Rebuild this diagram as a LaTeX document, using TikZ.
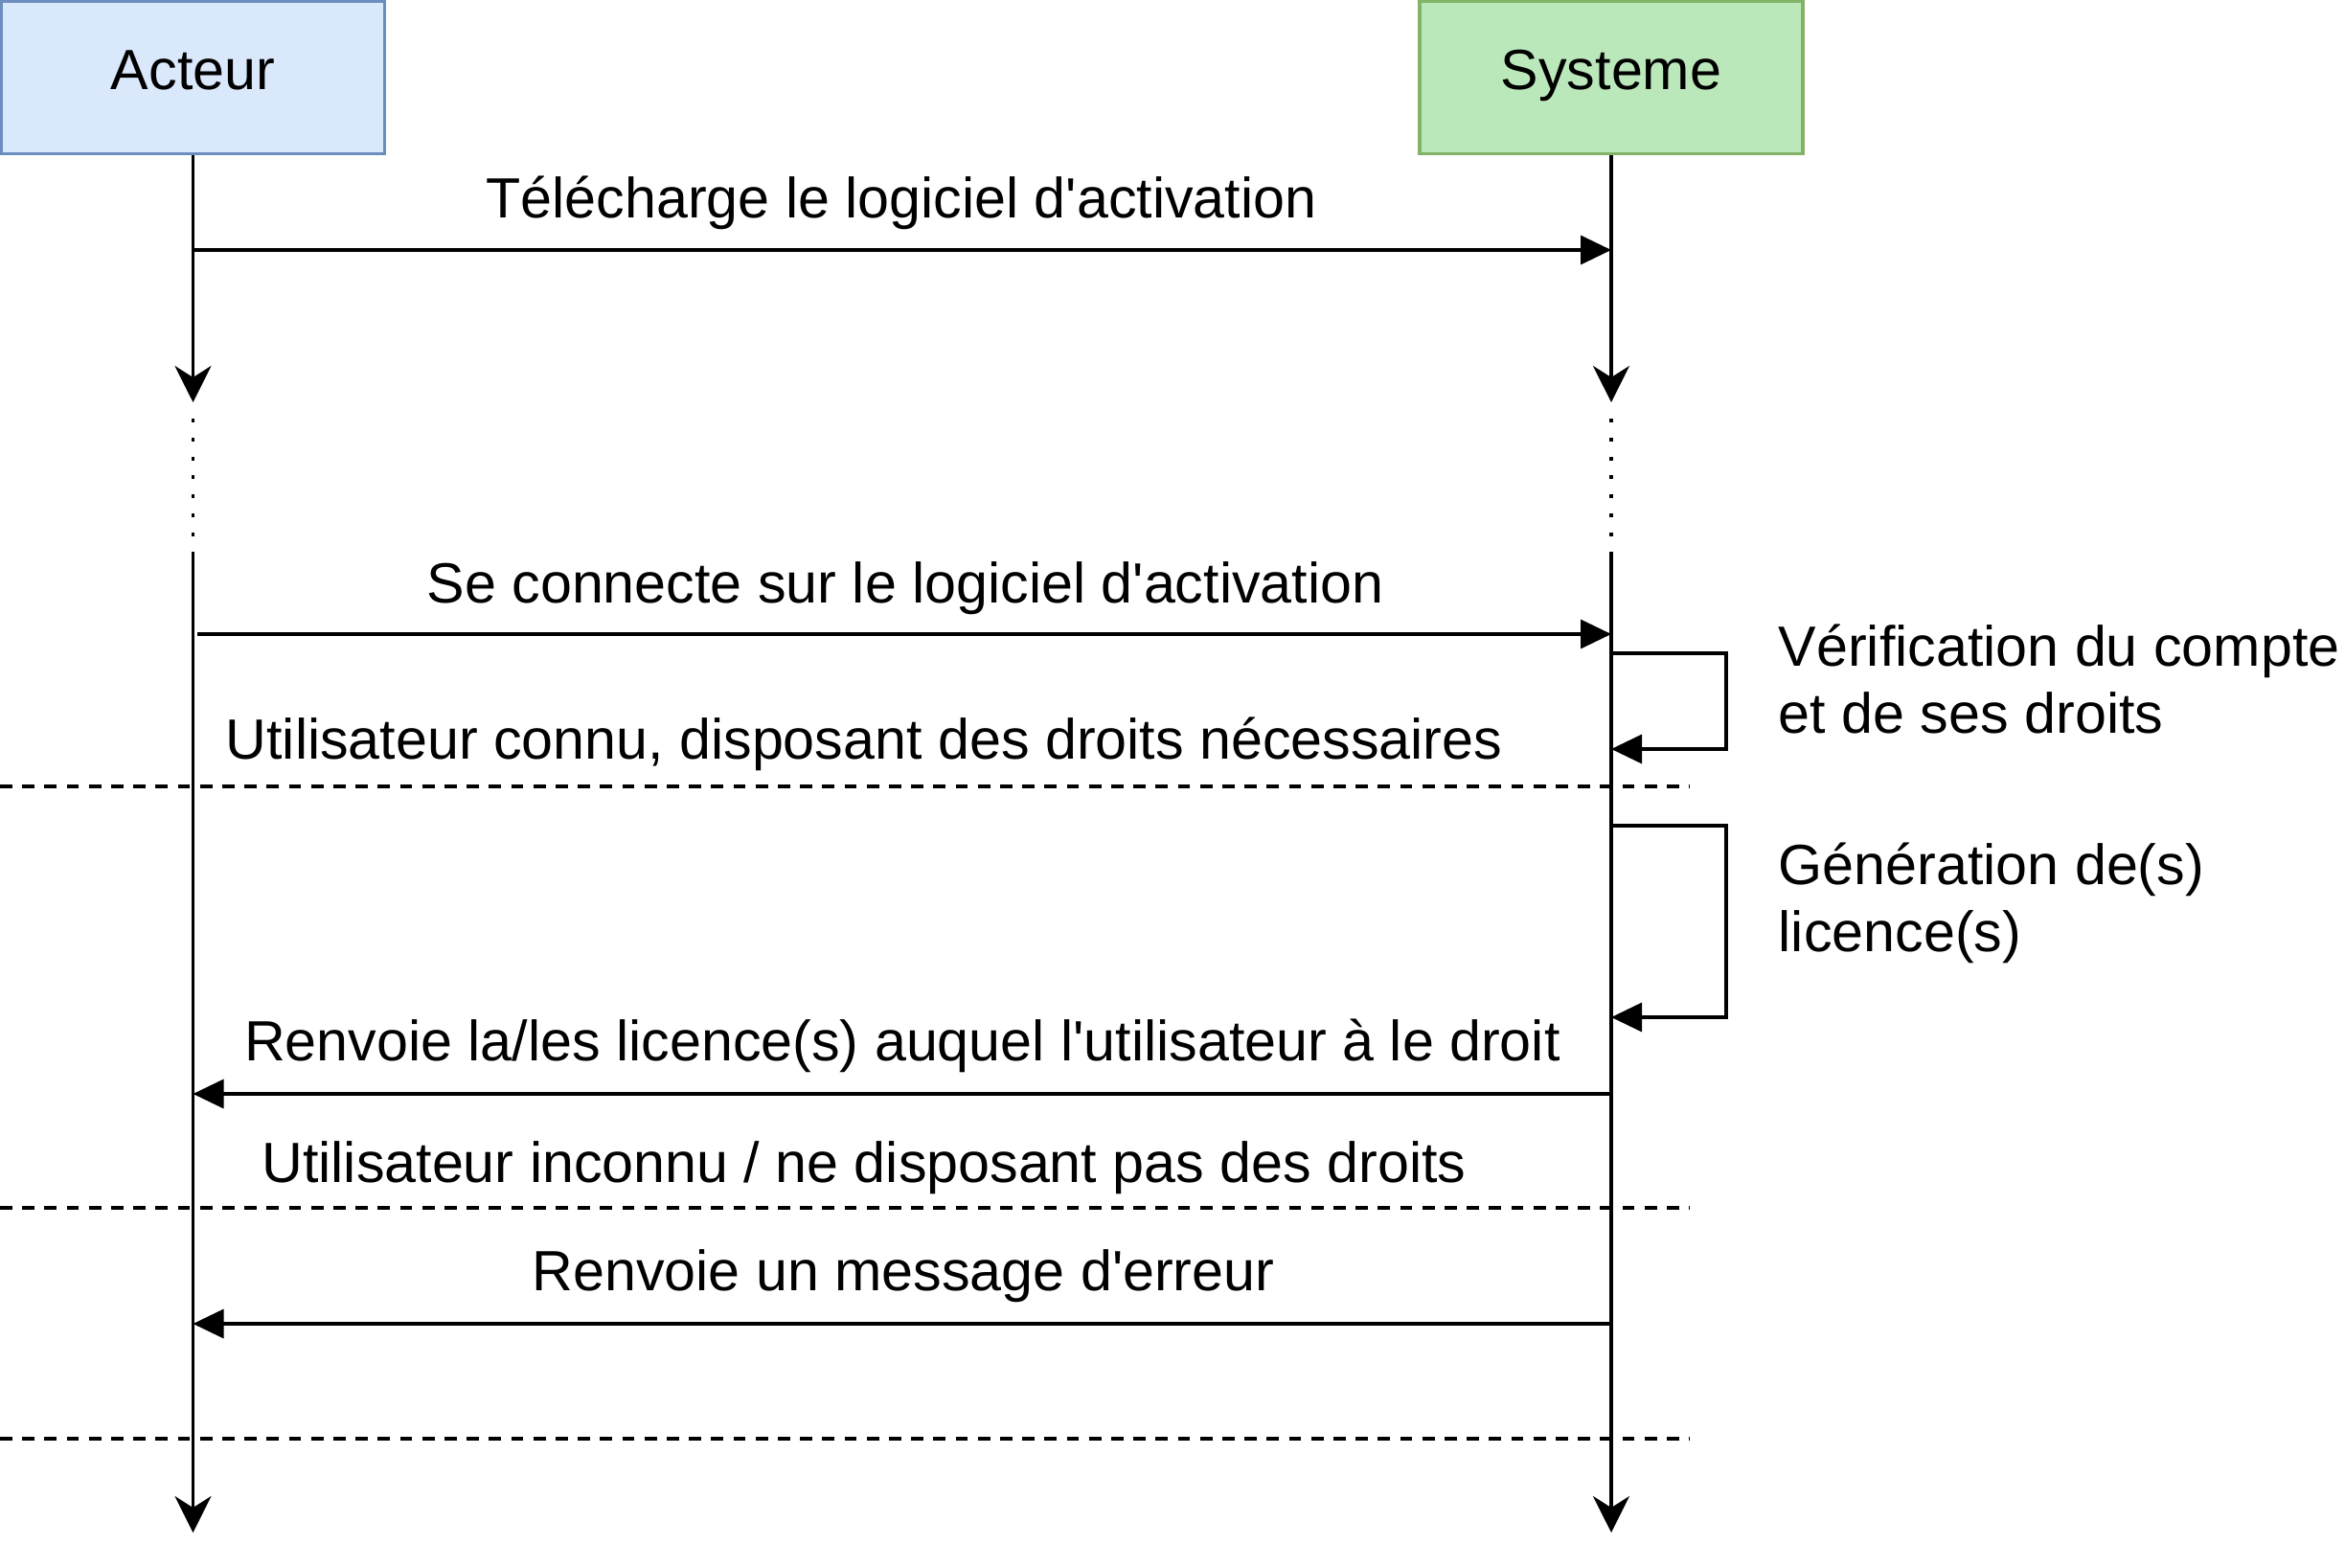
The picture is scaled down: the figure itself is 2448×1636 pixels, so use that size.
\documentclass[tikz,border=0pt]{standalone}
\usepackage{fontspec}
\setmainfont{Liberation Sans}
\usetikzlibrary{arrows.meta}
\definecolor{actfill}{HTML}{DAE8FC}
\definecolor{actdraw}{HTML}{6C8EBF}
\definecolor{sysfill}{RGB}{187,232,187}
\definecolor{sysdraw}{HTML}{82B366}
\newcommand{\apos}{\textquotesingle}
\begin{document}
\begin{tikzpicture}[x=0.25pt,y=-0.25pt,
  every node/.style={font=\fontsize{14.8}{17.5}\selectfont, inner sep=0pt},
  headbox/.style={line width=0.85pt, minimum width=100pt, minimum height=39.75pt, text height=10.6pt, text depth=4.1pt},
  actorbox/.style={headbox, draw=actdraw, fill=actfill},
  sysbox/.style={headbox, draw=sysdraw, fill=sysfill},
  life/.style={line width=0.85pt, -{Stealth[length=9.5pt,width=9.5pt,inset=3pt]}},
  lifedot/.style={line width=0.9pt, dash pattern=on 1pt off 3.95pt},
  msg/.style={line width=0.85pt, -{Triangle[length=8pt,width=7.5pt]}},
  sepline/.style={line width=0.8pt, dash pattern=on 3.2pt off 2.6pt},
  msglabel/.style={anchor=base},
  looplabel/.style={anchor=base west, align=left},
]
\useasboundingbox (0,0) rectangle (2448,1636);

% head boxes
\node[actorbox] (acteur) at (201.5,81) {Acteur};
\node[sysbox] (systeme) at (1682,81) {Systeme};

% lifeline coordinates
\coordinate (aE1) at (201.5,420);
\coordinate (aD1) at (201.5,437);
\coordinate (aD2) at (201.5,560);
\coordinate (aS) at (201.5,576);
\coordinate (aE2) at (201.5,1600);
\coordinate (sE1) at (1682,420);
\coordinate (sD1) at (1682,437);
\coordinate (sD2) at (1682,560);
\coordinate (sS) at (1682,576);
\coordinate (sE2) at (1682,1600);

% lifelines
\draw[life] (acteur.south) -- (aE1);
\draw[lifedot] (aD1) -- (aD2);
\draw[life] (aS) -- (aE2);
\draw[life] (systeme.south) -- (sE1);
\draw[lifedot] (sD1) -- (sD2);
\draw[life] (sS) -- (sE2);

% message 1
\coordinate (m1a) at (201.5,261);
\coordinate (m1b) at (1682,261);
\draw[msg] (m1a) -- (m1b);
\node[msglabel] (t1) at (941,228) {Télécharge le logiciel d\apos activation};

% message 2
\coordinate (m2a) at (206,662);
\coordinate (m2b) at (1682,662);
\draw[msg] (m2a) -- (m2b);
\node[msglabel] (t2) at (945,629) {Se connecte sur le logiciel d\apos activation};

% self loop 1
\coordinate (l1a) at (1682,682);
\coordinate (l1b) at (1682,782);
\draw[msg] (l1a) -- ++(120,0) |- (l1b);
\node[looplabel] (t3) at (1856,765) {Vérification du compte\\et de ses droits};

% guard 1
\node[msglabel] (g1) at (902,792) {Utilisateur connu, disposant des droits nécessaires};
\coordinate (d1a) at (0,821);
\coordinate (d1b) at (1764,821);
\draw[sepline] (d1a) -- (d1b);

% self loop 2
\coordinate (l2a) at (1682,862);
\coordinate (l2b) at (1682,1062);
\draw[msg] (l2a) -- ++(120,0) |- (l2b);
\node[looplabel] (t4) at (1856,993) {Génération de(s)\\licence(s)};

% message 3
\coordinate (m3a) at (1682,1142);
\coordinate (m3b) at (201.5,1142);
\draw[msg] (m3a) -- (m3b);
\node[msglabel] (t5) at (942,1107) {Renvoie la/les licence(s) auquel l\apos utilisateur à le droit};

% guard 2
\node[msglabel] (g2) at (902,1234) {Utilisateur inconnu / ne disposant pas des droits};
\coordinate (d2a) at (0,1261);
\coordinate (d2b) at (1764,1261);
\draw[sepline] (d2a) -- (d2b);

% message 4
\coordinate (m4a) at (1682,1382);
\coordinate (m4b) at (201.5,1382);
\draw[msg] (m4a) -- (m4b);
\node[msglabel] (t6) at (943,1347) {Renvoie un message d\apos erreur};

% final separator
\coordinate (d3a) at (0,1502);
\coordinate (d3b) at (1764,1502);
\draw[sepline] (d3a) -- (d3b);
\end{tikzpicture}
\end{document}
